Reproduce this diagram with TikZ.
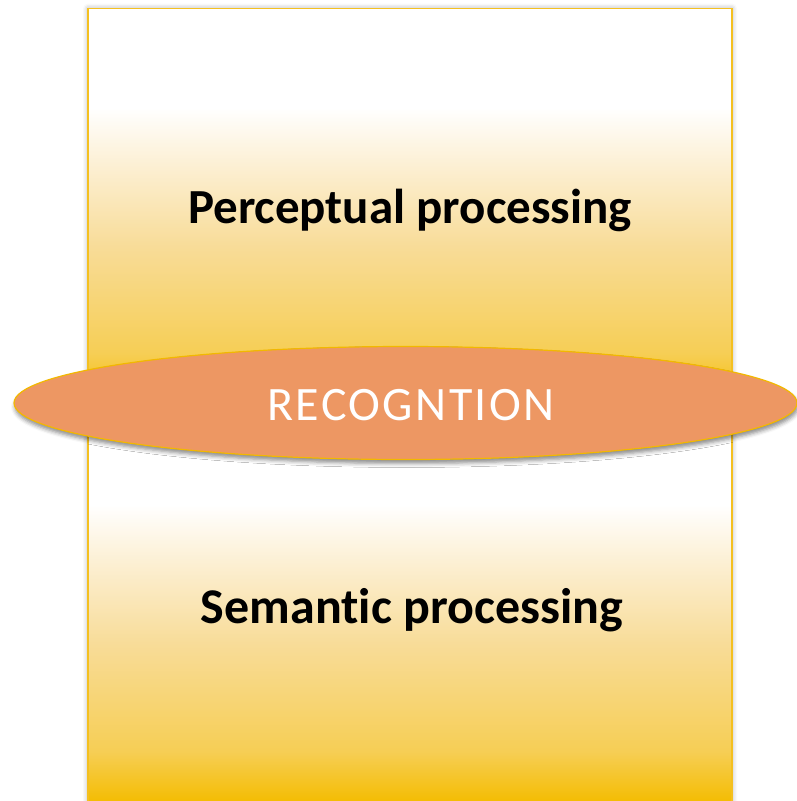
\documentclass[tikz,border=0pt]{standalone}
\usepackage{fontspec}
\setmainfont[Ligatures={NoCommon}]{Carlito}
\usetikzlibrary{shapes.geometric,shadows.blur}
\definecolor{gold}{HTML}{F4BC00}
\definecolor{goldA}{HTML}{F6CE55}
\definecolor{goldB}{HTML}{F8DC98}
\definecolor{goldC}{HTML}{FCEFD2}
\definecolor{goldline}{HTML}{F4C020}
\definecolor{orangefill}{HTML}{ED9763}
\definecolor{ellline}{HTML}{F2B800}
\pgfdeclareverticalshading{goldfade}{100bp}{color(0bp)=(gold); color(25bp)=(gold); color(31.5bp)=(goldA); color(45bp)=(goldB); color(55bp)=(goldC); color(62.5bp)=(white); color(100bp)=(white)}
\tikzset{
  panel/.style={rectangle, draw=goldline, line width=1.5pt, shading=goldfade, inner sep=0pt,
    minimum width=644pt,
    blur shadow={shadow xshift=0pt, shadow yshift=0pt, shadow blur radius=5pt, shadow opacity=35}},
  lens/.style={ellipse, draw=ellline, line width=1.2pt, fill=orangefill, inner sep=0pt,
    minimum width=783pt, minimum height=113pt,
    blur shadow={shadow xshift=1pt, shadow yshift=-4pt, shadow blur radius=4pt, shadow opacity=45}},
  bigbold/.style={font=\bfseries\fontsize{49}{56}\selectfont, text=black, inner sep=0pt, anchor=base},
  lenstext/.style={font=\fontsize{48}{54}\selectfont\addfontfeature{LetterSpace=5}, text=white, inner sep=0pt, anchor=base}
}
\begin{document}
\begin{tikzpicture}[x=1pt,y=-1pt]
\useasboundingbox (0,0) rectangle (797,801);
\node[panel, minimum height=396.5pt] (top) at (410,206.75) {};
\node[panel, minimum height=398pt] (bottom) at (410,604) {};
\node[bigbold] (perc) at (410,223) {Perceptual processing};
\node[bigbold, font=\bfseries\fontsize{50}{56}\selectfont] (sem) at (412,623) {Semantic processing};
\node[lens] (recog) at (405.5,403) {};
\node[lenstext] (rtext) at (411,420) {RECOGNTION};
\end{tikzpicture}
\end{document}
